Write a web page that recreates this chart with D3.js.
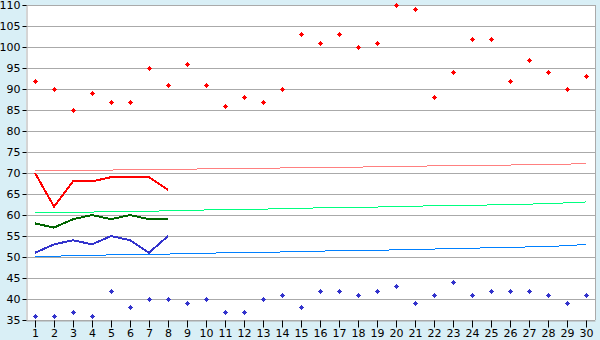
<!DOCTYPE html>
<html lang="en">
<head>
  <meta charset="UTF-8">
  <title>Chart</title>
  <style>
    body {
      margin: 0;
      background-color: #d9eff6;
    }
    svg text {
      font-family: "DejaVu Sans", Verdana, sans-serif;
      font-size: 11px;
      fill: #000;
    }
  </style>
</head>
<body>
  <div id="chart"></div>

  <script src="https://d3js.org/d3.v7.min.js"></script>
  <script>
    const days = d3.range(1, 31);
    const yTicks = d3.range(35, 111, 5);

    // scattered markers
    const redPoints = [92, 90, 85, 89, 87, 87, 95, 91, 96, 91, 86, 88, 87, 90, 103,
                       101, 103, 100, 101, 110, 109, 88, 94, 102, 102, 92, 97, 94, 90, 93];
    const bluePoints = [36, 36, 37, 36, 42, 38, 40, 40, 39, 40, 37, 37, 40, 41, 38,
                        42, 42, 41, 42, 43, 39, 41, 44, 41, 42, 42, 42, 41, 39, 41];

    // short lines (days 1-8)
    const redLine = [70, 62, 68, 68, 69, 69, 69, 66];
    const greenLine = [58, 57, 59, 60, 59, 60, 59, 59];
    const blueLine = [51, 53, 54, 53, 55, 54, 51, 55];

    // thin slowly rising lines
    const pinkTrend = [70.5, 70.6, 70.6, 70.7, 70.7, 70.8, 70.8, 70.9, 70.9, 71.0,
                       71.0, 71.1, 71.1, 71.2, 71.2, 71.3, 71.3, 71.4, 71.5, 71.5,
                       71.6, 71.7, 71.7, 71.8, 71.8, 71.9, 72.0, 72.0, 72.1, 72.3];
    const lightGreenTrend = [60.5, 60.6, 60.6, 60.7, 60.8, 60.9, 60.9, 61.0, 61.1, 61.2,
                             61.3, 61.3, 61.4, 61.5, 61.6, 61.7, 61.7, 61.8, 61.9, 62.0,
                             62.1, 62.2, 62.2, 62.3, 62.4, 62.5, 62.6, 62.7, 62.9, 63.1];
    const blueTrend = [50.1, 50.2, 50.3, 50.4, 50.5, 50.6, 50.6, 50.7, 50.8, 50.9,
                       51.0, 51.1, 51.1, 51.2, 51.3, 51.4, 51.5, 51.6, 51.6, 51.7,
                       51.8, 51.9, 52.0, 52.1, 52.2, 52.3, 52.4, 52.5, 52.7, 53.0];

    const width = 600;
    const height = 340;
    const plotLeft = 26, plotRight = 595, plotTop = 5, plotBottom = 320;

    const svg = d3.select("#chart")
                  .append("svg")
                  .attr("width", width)
                  .attr("height", height);

    const x = d3.scalePoint().domain(days).range([plotLeft, plotRight]).padding(0.5);
    const y = d3.scaleLinear().domain([35, 110]).range([plotBottom, plotTop]);

    // plot background
    svg.append("rect")
       .attr("x", plotLeft)
       .attr("y", plotTop)
       .attr("width", plotRight - plotLeft)
       .attr("height", plotBottom - plotTop)
       .attr("fill", "#fff");

    // gridlines
    svg.append("g")
       .selectAll("line")
       .data(yTicks)
       .enter()
       .append("line")
       .attr("x1", plotLeft)
       .attr("x2", plotRight)
       .attr("y1", d => Math.round(y(d)) + 0.5)
       .attr("y2", d => Math.round(y(d)) + 0.5)
       .attr("stroke", "#aaa")
       .attr("stroke-width", 1);

    // left axis
    const yAxis = svg.append("g")
       .attr("transform", `translate(${plotLeft + 0.5},0)`)
       .call(d3.axisLeft(y).tickValues(yTicks).tickSize(4).tickPadding(2)
               .tickFormat(d3.format("d")));
    yAxis.select(".domain").attr("stroke", "#aaa");
    yAxis.selectAll(".tick line").attr("stroke", "#000");
    yAxis.selectAll(".tick").attr("transform", d => `translate(0,${Math.round(y(d)) + 0.5})`);

    // bottom axis
    const xAxis = svg.append("g")
       .attr("transform", `translate(0,${plotBottom + 0.5})`)
       .call(d3.axisBottom(x).tickSize(7).tickPadding(2).tickSizeOuter(0));
    xAxis.select(".domain").attr("stroke", "#aaa");
    xAxis.selectAll(".tick line").attr("stroke", "#000");
    xAxis.selectAll(".tick").attr("transform", d => `translate(${Math.round(x(d)) + 0.5},0)`);
    svg.selectAll(".tick text").style("font-family", "\"DejaVu Sans\", Verdana, sans-serif")
       .style("font-size", "11px");

    // right border
    svg.append("line")
       .attr("x1", plotRight + 0.5).attr("x2", plotRight + 0.5)
       .attr("y1", plotTop).attr("y2", plotBottom)
       .attr("stroke", "#aaa");

    const drawLine = (values, color, w) => {
      const line = d3.line()
                     .x((d, i) => Math.round(x(days[i])))
                     .y(d => y(d));
      svg.append("path")
         .datum(values)
         .attr("d", line)
         .attr("fill", "none")
         .attr("stroke", color)
         .attr("stroke-width", w)
         .attr("shape-rendering", "crispEdges");
    };

    drawLine(pinkTrend, "#ff8080", 1);
    drawLine(lightGreenTrend, "#00ff80", 1);
    drawLine(blueTrend, "#0080ff", 1);
    drawLine(redLine, "#ff0000", 2);
    drawLine(greenLine, "#006400", 2);
    drawLine(blueLine, "#3333cc", 2);

    // small plus-shaped markers: 3x3 core with 1px arms
    const marker = "M-0.5,-2.5h1v1h1v1h1v1h-1v1h-1v1h-1v-1h-1v-1h-1v-1h1v-1h1z";
    const drawPoints = (values, color) => {
      svg.append("g")
         .selectAll("path")
         .data(values)
         .enter()
         .append("path")
         .attr("transform", (d, i) => `translate(${Math.round(x(days[i])) + 0.5},${Math.round(y(d)) + 0.5})`)
         .attr("d", marker)
         .attr("fill", color)
         .attr("shape-rendering", "crispEdges");
    };

    drawPoints(redPoints, "#ff0000");
    drawPoints(bluePoints, "#3333cc");
  </script>
</body>
</html>
